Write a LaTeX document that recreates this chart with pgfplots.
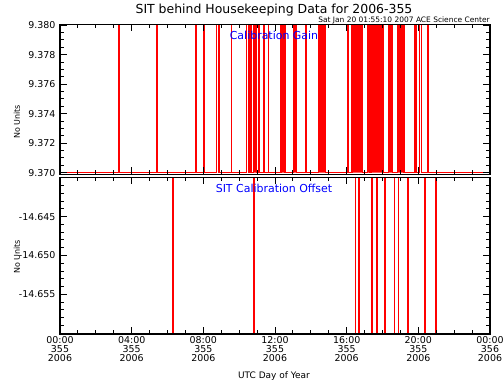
\documentclass[border=0pt]{standalone}
\usepackage{fontspec}
\setmainfont{DejaVu Sans}
\usepackage{pgfplots}
\pgfplotsset{compat=1.18}
\definecolor{pred}{RGB}{255,0,0}
\definecolor{pblue}{RGB}{0,0,255}
\begin{document}
\begin{tikzpicture}
\path[use as bounding box] (0bp,0bp) rectangle (503bp,-382bp);
\pgfplotsset{common/.style={scale only axis, width=430bp, xmin=0, xmax=24,
  xtick={0,4,8,12,16,20,24},
  minor xtick={1,2,3,5,6,7,9,10,11,13,14,15,17,18,19,21,22,23},
  tick align=inside, major tick length=7bp, minor tick length=4bp,
  axis line style={line width=1.2pt, black},
  tick style={black, line width=0.9pt},
  axis on top, clip=true,
  yticklabel style={font=\fontsize{9.5}{10}\selectfont, xshift=-1bp},
  xticklabel style={font=\fontsize{9.5}{8.8}\selectfont, align=center, yshift=1bp},
}}
\begin{axis}[common, at={(60bp,-174.3bp)}, anchor=south west, height=150bp,
  ymin=9.36989, ymax=9.38005,
  ytick={9.370,9.372,9.374,9.376,9.378,9.380},
  yticklabels={9.370,9.372,9.374,9.376,9.378,9.380},
  minor ytick={9.3705,9.3710,9.3715,9.3725,9.3730,9.3735,9.3745,9.3750,9.3755,9.3765,9.3770,9.3775,9.3785,9.3790,9.3795},
  xticklabels={}]
\addplot[fill=pred, draw=none] coordinates {
(10.789,9.3700)(10.789,9.3830)(10.978,9.3830)(10.978,9.3700)
(12.335,9.3700)(12.335,9.3830)(12.558,9.3830)(12.558,9.3700)
(13.021,9.3700)(13.021,9.3830)(13.211,9.3830)(13.211,9.3700)
(14.416,9.3700)(14.416,9.3830)(14.829,9.3830)(14.829,9.3700)
(16.297,9.3700)(16.297,9.3830)(16.883,9.3830)(16.883,9.3700)
(17.173,9.3700)(17.173,9.3830)(17.302,9.3830)(17.302,9.3700)
(17.397,9.3700)(17.397,9.3830)(18.044,9.3830)(18.044,9.3700)
(18.323,9.3700)(18.323,9.3830)(18.569,9.3830)(18.569,9.3700)
(18.826,9.3700)(18.826,9.3830)(19.200,9.3830)(19.200,9.3700)
(10.789,9.3700)};
\addplot[pred, line width=1.3pt] coordinates {
(0,9.3700)
(3.293,9.3700)(3.293,9.3830)(3.318,9.3830)(3.318,9.3700)
(5.397,9.3700)(5.397,9.3830)(5.422,9.3830)(5.422,9.3700)
(7.574,9.3700)(7.574,9.3830)(7.599,9.3830)(7.599,9.3700)
(8.020,9.3700)(8.020,9.3830)(8.050,9.3830)(8.050,9.3700)
(8.735,9.3700)(8.735,9.3830)(8.874,9.3830)(8.874,9.3700)
(9.561,9.3700)(9.561,9.3830)(9.586,9.3830)(9.586,9.3700)
(10.420,9.3700)(10.420,9.3830)(10.510,9.3830)(10.510,9.3700)
(10.605,9.3700)(10.605,9.3830)(10.700,9.3830)(10.700,9.3700)
(10.789,9.3700)(10.789,9.3830)(10.978,9.3830)(10.978,9.3700)
(11.090,9.3700)(11.090,9.3830)(11.115,9.3830)(11.115,9.3700)
(11.386,9.3700)(11.386,9.3830)(11.411,9.3830)(11.411,9.3700)
(11.626,9.3700)(11.626,9.3830)(11.651,9.3830)(11.651,9.3700)
(12.335,9.3700)(12.335,9.3830)(12.558,9.3830)(12.558,9.3700)
(13.021,9.3700)(13.021,9.3830)(13.211,9.3830)(13.211,9.3700)
(13.713,9.3700)(13.713,9.3830)(13.738,9.3830)(13.738,9.3700)
(14.416,9.3700)(14.416,9.3830)(14.829,9.3830)(14.829,9.3700)
(16.046,9.3700)(16.046,9.3830)(16.071,9.3830)(16.071,9.3700)
(16.297,9.3700)(16.297,9.3830)(16.883,9.3830)(16.883,9.3700)
(17.173,9.3700)(17.173,9.3830)(17.302,9.3830)(17.302,9.3700)
(17.397,9.3700)(17.397,9.3830)(18.044,9.3830)(18.044,9.3700)
(18.323,9.3700)(18.323,9.3830)(18.569,9.3830)(18.569,9.3700)
(18.826,9.3700)(18.826,9.3830)(19.200,9.3830)(19.200,9.3700)
(19.814,9.3700)(19.814,9.3830)(19.909,9.3830)(19.909,9.3700)
(20.054,9.3700)(20.054,9.3830)(20.188,9.3830)(20.188,9.3700)
(20.511,9.3700)(20.511,9.3830)(20.536,9.3830)(20.536,9.3700)
(24,9.3700)};
\end{axis}
\begin{axis}[common, at={(60bp,-334bp)}, anchor=south west, height=156.7bp,
  ymin=-14.6601, ymax=-14.63995,
  ytick={-14.655,-14.650,-14.645},
  yticklabels={-14.655,-14.650,-14.645},
  minor ytick={-14.659,-14.658,-14.657,-14.656,-14.654,-14.653,-14.652,-14.651,-14.649,-14.648,-14.647,-14.646,-14.644,-14.643,-14.642,-14.641},
  xticklabels={{00:00\\355\\2006},{04:00\\355\\2006},{08:00\\355\\2006},{12:00\\355\\2006},{16:00\\355\\2006},{20:00\\355\\2006},{00:00\\356\\2006}}]
\addplot[pred, line width=1.3pt] coordinates {
(0,-14.6400)
(6.290,-14.6400)(6.290,-14.6620)(6.315,-14.6620)(6.315,-14.6400)
(10.828,-14.6400)(10.828,-14.6620)(10.853,-14.6620)(10.853,-14.6400)
(16.504,-14.6400)(16.504,-14.6620)(16.688,-14.6620)(16.688,-14.6400)
(17.397,-14.6400)(17.397,-14.6620)(17.422,-14.6620)(17.422,-14.6400)
(17.676,-14.6400)(17.676,-14.6620)(17.701,-14.6620)(17.701,-14.6400)
(18.139,-14.6400)(18.139,-14.6620)(18.164,-14.6620)(18.164,-14.6400)
(18.658,-14.6400)(18.658,-14.6620)(18.683,-14.6620)(18.683,-14.6400)
(18.881,-14.6400)(18.881,-14.6620)(18.906,-14.6620)(18.906,-14.6400)
(19.395,-14.6400)(19.395,-14.6620)(19.420,-14.6620)(19.420,-14.6400)
(20.372,-14.6400)(20.372,-14.6620)(20.397,-14.6620)(20.397,-14.6400)
(20.958,-14.6400)(20.958,-14.6620)(20.983,-14.6620)(20.983,-14.6400)
(24,-14.6400)};
\end{axis}
\node[font=\fontsize{12.5}{14}\selectfont] at (274bp,-10bp) {SIT behind Housekeeping Data for 2006-355};
\node[font=\fontsize{7.5}{9}\selectfont, anchor=east, inner sep=0pt] at (490bp,-20bp) {Sat Jan 20 01:55:10 2007 ACE Science Center};
\node[pblue, font=\fontsize{11}{13}\selectfont] at (274bp,-35bp) {Calibration Gain};
\node[pblue, font=\fontsize{11}{13}\selectfont] at (274bp,-188.3bp) {SIT Calibration Offset};
\node[rotate=90, font=\fontsize{8}{10}\selectfont] at (17bp,-122bp) {No Units};
\node[rotate=90, font=\fontsize{8}{10}\selectfont] at (17bp,-257bp) {No Units};
\node[font=\fontsize{9}{11}\selectfont] at (274bp,-376bp) {UTC Day of Year};
\end{tikzpicture}
\end{document}
